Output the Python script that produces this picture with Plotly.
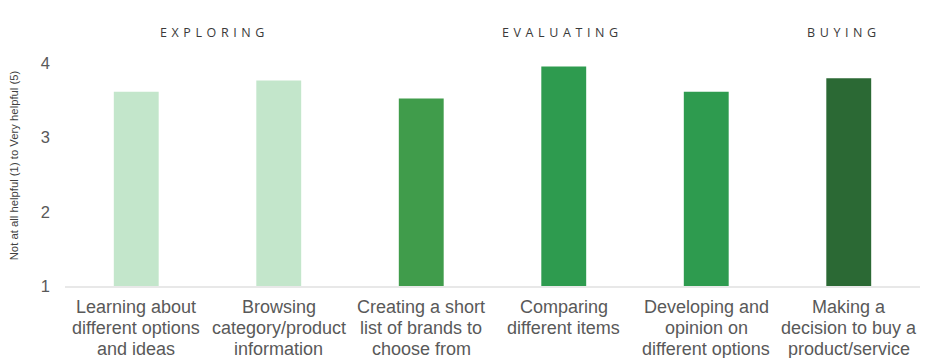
import plotly.graph_objects as go

categories = [
    "Learning about<br>different options<br>and ideas",
    "Browsing<br>category/product<br>information",
    "Creating a short<br>list of brands to<br>choose from",
    "Comparing<br>different items",
    "Developing and<br>opinion on<br>different options",
    "Making a<br>decision to buy a<br>product/service",
]
values = [3.62, 3.77, 3.53, 3.96, 3.62, 3.80]
bar_colors = ["#C3E6CB", "#C3E6CB", "#409C4B", "#2E9B4F", "#2E9B4F", "#2B6934"]
stages = ["EXPLORING", "EVALUATING", "BUYING"]
y_ticks = [1, 2, 3, 4]
y_title = "Not at all helpful (1) to Very helpful (5)"

fig = go.Figure()
fig.add_trace(go.Bar(
    x=list(range(len(categories))),
    y=[v - 1 for v in values],
    base=1,
    marker=dict(color=bar_colors, line=dict(width=0)),
    width=0.315,
    hoverinfo="skip",
))

stage_x = [0.55, 2.99, 4.97]
for name, sx in zip(stages, stage_x):
    fig.add_annotation(
        x=sx, xref="x", y=1.05, yref="paper",
        text='<span style="letter-spacing:4.6px">' + name + "</span>",
        showarrow=False,
        font=dict(family="Open Sans", size=12.5, color="#3A3A3A"),
        xanchor="center", yanchor="middle",
    )

# category labels, one annotation per line for tighter line spacing
line_y = [-0.086, -0.173, -0.262]
for i, cat in enumerate(categories):
    for j, line in enumerate(cat.split("<br>")):
        fig.add_annotation(
            x=i, xref="x", y=line_y[j], yref="paper",
            text=line, showarrow=False,
            font=dict(family="Liberation Sans, Arial", size=18, color="#595959"),
            xanchor="center", yanchor="middle",
        )

# page body has an 8px margin; compensate in the figure margins
fig.update_layout(
    width=939, height=358,
    margin=dict(l=57, r=27, t=37, b=80),
    paper_bgcolor="white", plot_bgcolor="white",
    showlegend=False,
    font=dict(family="Liberation Sans, Arial", color="#595959"),
)
fig.update_xaxes(
    automargin=False,
    tickmode="array",
    tickvals=list(range(len(categories))),
    showticklabels=False,
    range=[-0.5, len(categories) - 0.5],
    showgrid=False, zeroline=False,
    showline=True, linecolor="#E8E8E8", linewidth=2,
    ticks="",
)
fig.update_yaxes(
    automargin=False,
    range=[1, 4.25],
    tickmode="array", tickvals=y_ticks,
    showgrid=False, zeroline=False, showline=False,
    ticks="", tickfont=dict(size=16.5, color="#595959"),
    ticklabelstandoff=14,
    title=dict(text=y_title, font=dict(size=11.3, color="#404040"), standoff=19),
)

fig.write_html("out.html")
